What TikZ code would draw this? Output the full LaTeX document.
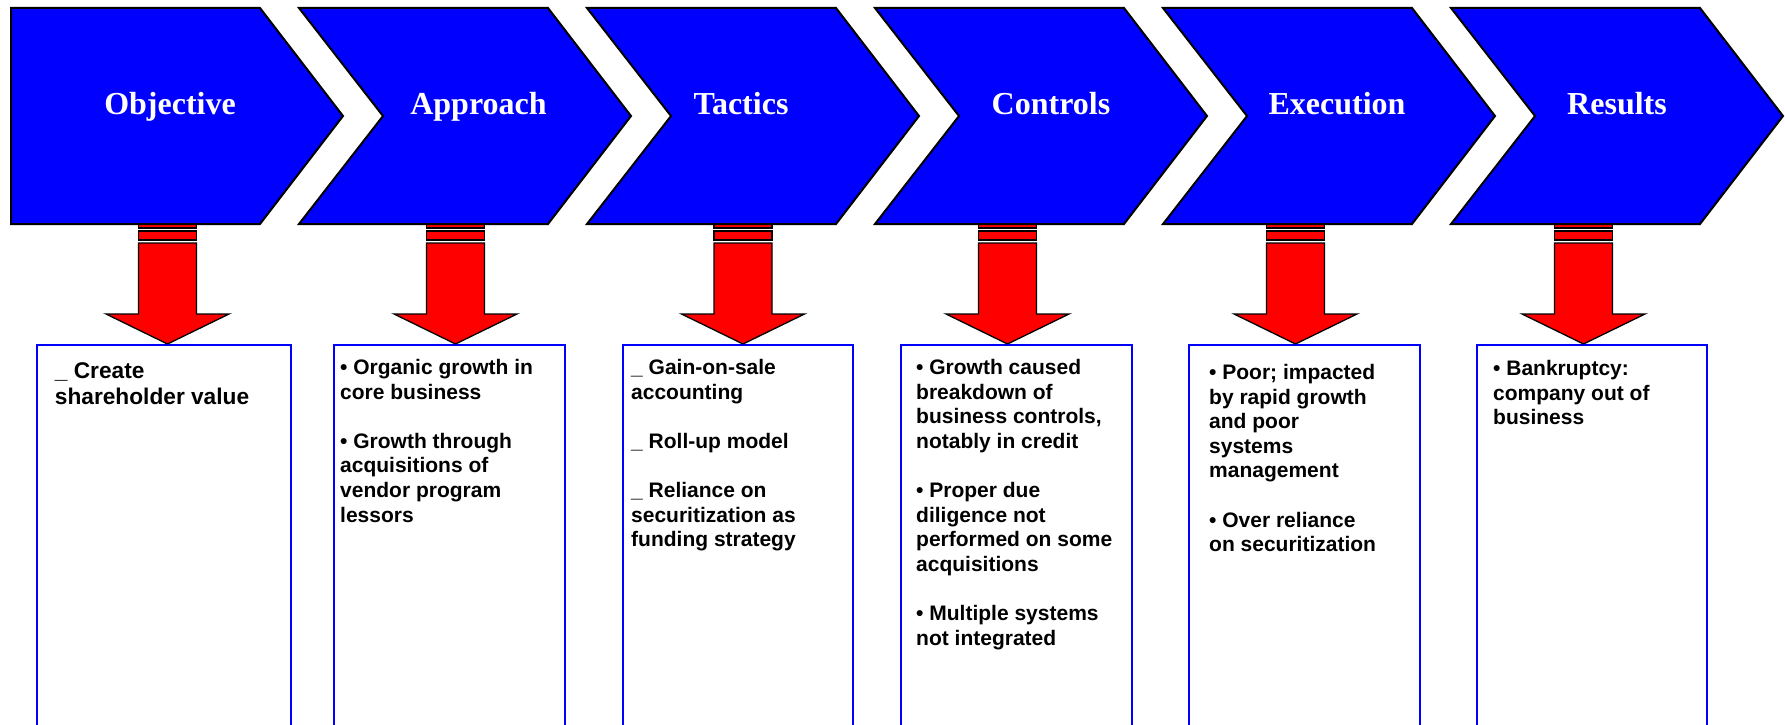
\documentclass[tikz,border=0pt]{standalone}
\usepackage{fontspec}
\setmainfont{Liberation Sans}
\newfontfamily\headfont{Liberation Serif}
\usetikzlibrary{positioning}

\begin{document}
\begin{tikzpicture}[
    x=1pt, y=-1pt,
    chevron/.style={fill=blue, draw=black, line width=2pt, line join=miter},
    headlabel/.style={text=white, anchor=base, inner sep=0pt, font=\headfont\bfseries\fontsize{32}{38}\selectfont},
    stripe/.style={fill=red, draw=black, line width=1.3pt, line join=miter},
    textbox/.style={draw=blue, line width=1.5pt, anchor=north west, inner sep=0pt, minimum height=420pt},
    boxtext/.style={anchor=base west, inner sep=0pt, font=\bfseries\fontsize{21}{24.6}\selectfont},
    largetext/.style={boxtext, font=\bfseries\fontsize{22.7}{26.6}\selectfont},
    ]
    \path[use as bounding box, clip] (0,0) rectangle (1785,725);

    \foreach \bx/\bw [count=\n] in {36/254, 333/231, 622/230, 900/231, 1188/231, 1476/230}{
        \node[textbox, minimum width=\bw pt] (box\n) at (\bx,344) {};
    }

    \node[largetext] (text1) at (54.7,378) {\parbox[t]{230pt}{\_ Create\\shareholder value}};
    \node[boxtext] (text2) at (340,374.5) {\parbox[t]{220pt}{• Organic growth in\\core business\\[\baselineskip]• Growth through\\acquisitions of\\vendor program\\lessors}};
    \node[boxtext] (text3) at (631,374.5) {\parbox[t]{220pt}{\_ Gain-on-sale\\accounting\\[\baselineskip]\_ Roll-up model\\[\baselineskip]\_ Reliance on\\securitization as\\funding strategy}};
    \node[boxtext] (text4) at (916,374.5) {\parbox[t]{220pt}{• Growth caused\\breakdown of\\business controls,\\notably in credit\\[\baselineskip]• Proper due\\diligence not\\performed on some\\acquisitions\\[\baselineskip]• Multiple systems\\not integrated}};
    \node[boxtext] (text5) at (1209,379.5) {\parbox[t]{220pt}{• Poor; impacted\\by rapid growth\\and poor\\systems\\management\\[\baselineskip]• Over reliance\\on securitization}};
    \node[boxtext] (text6) at (1493,375.5) {\parbox[t]{220pt}{• Bankruptcy:\\company out of\\business}};

    \foreach \cx [count=\n] in {167.5,455.5,743,1007.5,1295.5,1583.5}{
        \coordinate (tip\n) at (\cx,344);
        \draw[stripe] (\cx-29,216) rectangle ++(58,12);
        \draw[stripe] (\cx-29,231) rectangle ++(58,9);
        \draw[stripe] (\cx-29,243) --++ (58,0) --++ (0,71) --++ (32.5,0) -- (tip\n) --++ (-61.5,-30) --++ (32.5,0) -- cycle;
    }

    \foreach \lx/\tx/\title [count=\n, evaluate=\n as \dep using (\n>1)*84] in {11/170/Objective, 299/478.5/Approach, 587/741/Tactics, 875/1051/Controls, 1163/1337/Execution, 1451/1617/Results}{
        \draw[chevron] (\lx,8) --++ (249,0) --++ (83,108) --++ (-83,108) --++ (-249,0) --++ (\dep,-108) -- cycle;
        \node[headlabel] (head\n) at (\tx,114) {\title};
    }
\end{tikzpicture}
\end{document}
